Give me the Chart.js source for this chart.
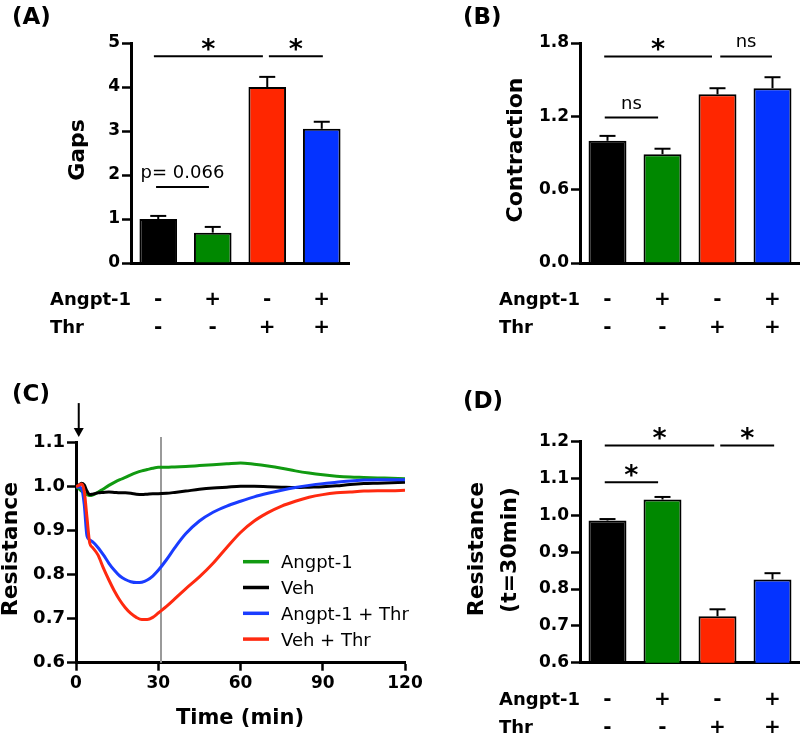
<!DOCTYPE html>
<html>
<head>
<meta charset="utf-8">
<script src="https://cdn.jsdelivr.net/npm/chart.js@4.4.0/dist/chart.umd.min.js"></script>
<style>
    body { margin: 0; background: #fff; }
    #wrap { position: relative; width: 800px; height: 734px; overflow: hidden; background: #fff; }
    canvas { position: absolute; }
</style>
</head>
<body>
<div id="wrap">
    <canvas id="chartA" style="left:0px;top:0px" width="400" height="345"></canvas>
    <canvas id="chartB" style="left:400px;top:0px" width="400" height="345"></canvas>
    <canvas id="chartC" style="left:0px;top:365px" width="440" height="369"></canvas>
    <canvas id="chartD" style="left:410px;top:365px" width="390" height="369"></canvas>
</div>
<script>
// groups and treatment rows
const groups = ['Veh', 'Angpt-1', 'Veh + Thr', 'Angpt-1 + Thr'];
const angptRow = ['-', '+', '-', '+'];
const thrRow = ['-', '-', '+', '+'];
const barColors = ['#000000', '#008800', '#ff2600', '#0433ff'];

// (A) gaps
const gapsMean = [1.0, 0.69, 4.0, 3.05];
const gapsSem = [0.07, 0.13, 0.23, 0.16];
const gapsSig = [
    { from: -0.08, to: 1.92, y: 4.7, label: '*' },
    { from: 2.03, to: 3.02, y: 4.7, label: '*' },
    { from: -0.04, to: 0.93, y: 1.73, label: 'p= 0.066' }
];

// (B) contraction
const contractionMean = [1.0, 0.89, 1.38, 1.43];
const contractionSem = [0.04, 0.045, 0.05, 0.09];
const contractionSig = [
    { from: -0.06, to: 1.90, y: 1.69, label: '*' },
    { from: 2.05, to: 2.99, y: 1.69, label: 'ns' },
    { from: -0.05, to: 0.92, y: 1.19, label: 'ns' }
];

// (C) resistance time course
const timeMin = [0, 1, 2, 3, 4, 5, 6, 8, 10, 12, 14, 16, 18, 20, 22, 24, 26, 28, 30, 33, 36, 40, 45, 50, 55, 60, 65, 70, 75, 80, 85, 90, 95, 100, 105, 110, 115, 120];
const angptTrace = [1.000, 0.996, 0.990, 0.986, 0.982, 0.980, 0.981, 0.987, 0.995, 1.003, 1.010, 1.016, 1.021, 1.027, 1.032, 1.036, 1.039, 1.042, 1.044, 1.044, 1.045, 1.046, 1.048, 1.050, 1.052, 1.054, 1.051, 1.047, 1.042, 1.036, 1.031, 1.027, 1.024, 1.022, 1.021, 1.020, 1.019, 1.018];
const vehTrace = [1.000, 1.003, 1.008, 1.004, 0.990, 0.982, 0.983, 0.986, 0.987, 0.988, 0.987, 0.986, 0.986, 0.985, 0.983, 0.982, 0.983, 0.984, 0.984, 0.985, 0.987, 0.990, 0.994, 0.997, 0.999, 1.001, 1.001, 1.000, 0.999, 0.998, 0.999, 1.000, 1.002, 1.005, 1.007, 1.008, 1.009, 1.010];
const angptThrTrace = [1.000, 0.999, 0.996, 0.960, 0.888, 0.879, 0.875, 0.862, 0.845, 0.826, 0.810, 0.797, 0.789, 0.784, 0.782, 0.783, 0.788, 0.797, 0.810, 0.834, 0.861, 0.893, 0.922, 0.942, 0.956, 0.967, 0.977, 0.985, 0.992, 0.998, 1.003, 1.007, 1.010, 1.013, 1.015, 1.016, 1.016, 1.016];
const vehThrTrace = [1.000, 1.003, 1.006, 0.990, 0.930, 0.872, 0.862, 0.845, 0.815, 0.788, 0.763, 0.742, 0.725, 0.712, 0.703, 0.698, 0.698, 0.703, 0.713, 0.728, 0.745, 0.768, 0.795, 0.826, 0.862, 0.896, 0.922, 0.941, 0.956, 0.967, 0.976, 0.982, 0.986, 0.988, 0.990, 0.991, 0.991, 0.992];
const traceLabels = ['Angpt-1', 'Veh', 'Angpt-1 + Thr', 'Veh + Thr'];
const traceColors = ['#119a11', '#000000', '#1a3cff', '#ff2a10'];
const thrombinArrow = { t: 1, yFrom: 1.19, yTo: 1.113 };
const sampleLine = { t: 31, yFrom: 0.6, yTo: 1.113 };

// (D) resistance at 30 min
const resist30Mean = [0.986, 1.043, 0.726, 0.826];
const resist30Sem = [0.004, 0.007, 0.019, 0.017];
const resist30Sig = [
    { from: -0.05, to: 1.94, y: 1.19, label: '*' },
    { from: 2.05, to: 3.03, y: 1.19, label: '*' },
    { from: -0.05, to: 0.92, y: 1.09, label: '*' }
];

const FONT = '"DejaVu Sans", "Liberation Sans", Arial, sans-serif';

Chart.defaults.font.family = FONT;
Chart.defaults.color = '#000';

function drawText(ctx, text, x, y, font, align, baseline, rotate) {
    ctx.save();
    ctx.font = font;
    ctx.fillStyle = '#000';
    ctx.textAlign = align || 'left';
    ctx.textBaseline = baseline || 'alphabetic';
    ctx.translate(x, y);
    if (rotate) ctx.rotate(rotate);
    ctx.fillText(text, 0, 0);
    ctx.restore();
}

function line(ctx, x1, y1, x2, y2, width, color) {
    ctx.save();
    ctx.beginPath();
    ctx.moveTo(x1, y1);
    ctx.lineTo(x2, y2);
    ctx.lineWidth = width;
    ctx.strokeStyle = color || '#000';
    ctx.stroke();
    ctx.restore();
}

// error bars, significance lines, treatment rows, titles
function barExtras(opts) {
    return {
        id: 'barExtras',
        afterDraw(chart) {
            const ctx = chart.ctx;
            const x = chart.scales.x, y = chart.scales.y;
            const area = chart.chartArea;

            opts.mean.forEach((m, i) => {
                const px = x.getPixelForValue(i);
                const top = y.getPixelForValue(m + opts.sem[i]);
                line(ctx, px, y.getPixelForValue(m), px, top, 2);
                line(ctx, px - 8, top, px + 8, top, 2);
            });

            opts.sig.forEach(s => {
                const py = y.getPixelForValue(s.y);
                const x1 = x.getPixelForValue(s.from), x2 = x.getPixelForValue(s.to);
                line(ctx, x1, py, x2, py, 2);
                if (s.label === '*') {
                    drawText(ctx, '*', (x1 + x2) / 2, py + 2, 'bold 27px ' + FONT, 'center');
                } else {
                    drawText(ctx, s.label, (x1 + x2) / 2, py - 9, '18px ' + FONT, 'center');
                }
            });

            const rowFont = 'bold 18px ' + FONT;
            drawText(ctx, 'Angpt-1', area.left - 81, area.bottom + 42, rowFont);
            drawText(ctx, 'Thr', area.left - 81, area.bottom + 70, rowFont);
            angptRow.forEach((s, i) => {
                const px = x.getPixelForValue(i);
                drawText(ctx, s, px, area.bottom + 42, 'bold 20px ' + FONT, 'center');
                drawText(ctx, thrRow[i], px, area.bottom + 70, 'bold 20px ' + FONT, 'center');
            });

            drawText(ctx, opts.letter, opts.letterPos[0], opts.letterPos[1], 'bold 23px ' + FONT);
            opts.titles.forEach(t => {
                drawText(ctx, t.text, t.x, t.y, 'bold 22px ' + FONT, 'center', 'middle', -Math.PI / 2);
            });
        }
    };
}

function barChart(id, mean, sem, sig, yMin, yMax, step, decimals, layout, extras) {
    new Chart(document.getElementById(id), {
        type: 'bar',
        data: {
            labels: groups,
            datasets: [{
                data: mean,
                backgroundColor: barColors,
                borderColor: '#000',
                borderWidth: 2,
                barPercentage: 0.69,
                categoryPercentage: 1
            }]
        },
        options: {
            responsive: false,
            animation: false,
            events: [],
            layout: { padding: { top: layout.top, right: layout.right, left: 0, bottom: 0 } },
            plugins: { legend: { display: false }, tooltip: { enabled: false } },
            scales: {
                x: {
                    grid: { display: false },
                    ticks: { display: false },
                    border: { display: true, color: '#000', width: 3 },
                    afterFit: s => { s.height = layout.xHeight; }
                },
                y: {
                    min: yMin,
                    max: yMax,
                    ticks: {
                        stepSize: step,
                        padding: 2,
                        color: '#000',
                        font: { size: 17, weight: 'bold' },
                        callback: v => Number(v).toFixed(decimals)
                    },
                    grid: { drawOnChartArea: false, drawTicks: true, tickLength: 9, tickWidth: 2.5, tickColor: '#000' },
                    border: { display: true, color: '#000', width: 3 },
                    afterFit: s => { s.width = layout.yWidth; }
                }
            }
        },
        plugins: [barExtras(Object.assign({ mean: mean, sem: sem, sig: sig }, extras))]
    });
}

barChart('chartA', gapsMean, gapsSem, gapsSig, 0, 5, 1, 0,
    { top: 43, right: 51, yWidth: 131, xHeight: 82 },
    { letter: '(A)', letterPos: [12, 24], titles: [{ text: 'Gaps', x: 78, y: 150 }] });

barChart('chartB', contractionMean, contractionSem, contractionSig, 0, 1.8, 0.6, 1,
    { top: 43, right: 0, yWidth: 180, xHeight: 82 },
    { letter: '(B)', letterPos: [63, 24], titles: [{ text: 'Contraction', x: 116, y: 150 }] });

barChart('chartD', resist30Mean, resist30Sem, resist30Sig, 0.6, 1.2, 0.1, 1,
    { top: 76.7, right: 0, yWidth: 170, xHeight: 71.3 },
    { letter: '(D)', letterPos: [53, 43], titles: [{ text: 'Resistance', x: 67, y: 184 }, { text: '(t=30min)', x: 100, y: 185 }] });

// (C) line chart
const traceData = [angptTrace, vehTrace, angptThrTrace, vehThrTrace];

new Chart(document.getElementById('chartC'), {
    type: 'line',
    data: {
        datasets: traceData.map((arr, k) => ({
            label: traceLabels[k],
            data: timeMin.map((t, i) => ({ x: t, y: arr[i] })),
            borderColor: traceColors[k],
            borderWidth: 3,
            pointRadius: 0,
            fill: false,
            cubicInterpolationMode: 'monotone',
            order: 3 - k
        }))
    },
    options: {
        responsive: false,
        animation: false,
        events: [],
        layout: { padding: { top: 77.7, right: 35, left: 0, bottom: 0 } },
        plugins: { legend: { display: false }, tooltip: { enabled: false } },
        scales: {
            x: {
                type: 'linear',
                min: 0,
                max: 120,
                ticks: { stepSize: 30, padding: 3, color: '#000', font: { size: 17, weight: 'bold' } },
                grid: { drawOnChartArea: false, drawTicks: true, tickLength: 8, tickWidth: 2.5, tickColor: '#000' },
                border: { display: true, color: '#000', width: 3 },
                afterFit: s => { s.height = 71.3; }
            },
            y: {
                min: 0.6,
                max: 1.1,
                ticks: {
                    stepSize: 0.1,
                    padding: 2,
                    color: '#000',
                    font: { size: 18, weight: 'bold' },
                    callback: v => Number(v).toFixed(1)
                },
                grid: { drawOnChartArea: false, drawTicks: true, tickLength: 9, tickWidth: 2.5, tickColor: '#000' },
                border: { display: true, color: '#000', width: 3 },
                afterFit: s => { s.width = 76; }
            }
        }
    },
    plugins: [{
        id: 'traceExtras',
        beforeDatasetsDraw(chart) {
            const x = chart.scales.x, y = chart.scales.y;
            const px = x.getPixelForValue(sampleLine.t);
            line(chart.ctx, px, y.getPixelForValue(sampleLine.yFrom), px, y.getPixelForValue(sampleLine.yTo), 2, '#9a9a9a');
        },
        afterDraw(chart) {
            const ctx = chart.ctx;
            const x = chart.scales.x, y = chart.scales.y;
            const area = chart.chartArea;

            // thrombin arrow
            const ax = x.getPixelForValue(thrombinArrow.t);
            const ay1 = y.getPixelForValue(thrombinArrow.yFrom), ay2 = y.getPixelForValue(thrombinArrow.yTo);
            line(ctx, ax, ay1, ax, ay2 - 6, 2);
            ctx.save();
            ctx.beginPath();
            ctx.moveTo(ax - 5, ay2 - 9);
            ctx.lineTo(ax + 5, ay2 - 9);
            ctx.lineTo(ax, ay2);
            ctx.closePath();
            ctx.fillStyle = '#000';
            ctx.fill();
            ctx.restore();

            // legend
            chart.data.datasets.forEach((ds, k) => {
                const ly = area.top + 119 + k * 25.8;
                line(ctx, area.left + 167, ly, area.left + 193, ly, 3.5, ds.borderColor);
                drawText(ctx, ds.label, area.left + 205, ly + 6.6, '18px ' + FONT);
            });

            drawText(ctx, '(C)', 12, 36, 'bold 23px ' + FONT);
            drawText(ctx, 'Resistance', 11, 184, 'bold 22px ' + FONT, 'center', 'middle', -Math.PI / 2);
            drawText(ctx, 'Time (min)', 240, 359, 'bold 21px ' + FONT, 'center');
        }
    }]
});
</script>
</body>
</html>
